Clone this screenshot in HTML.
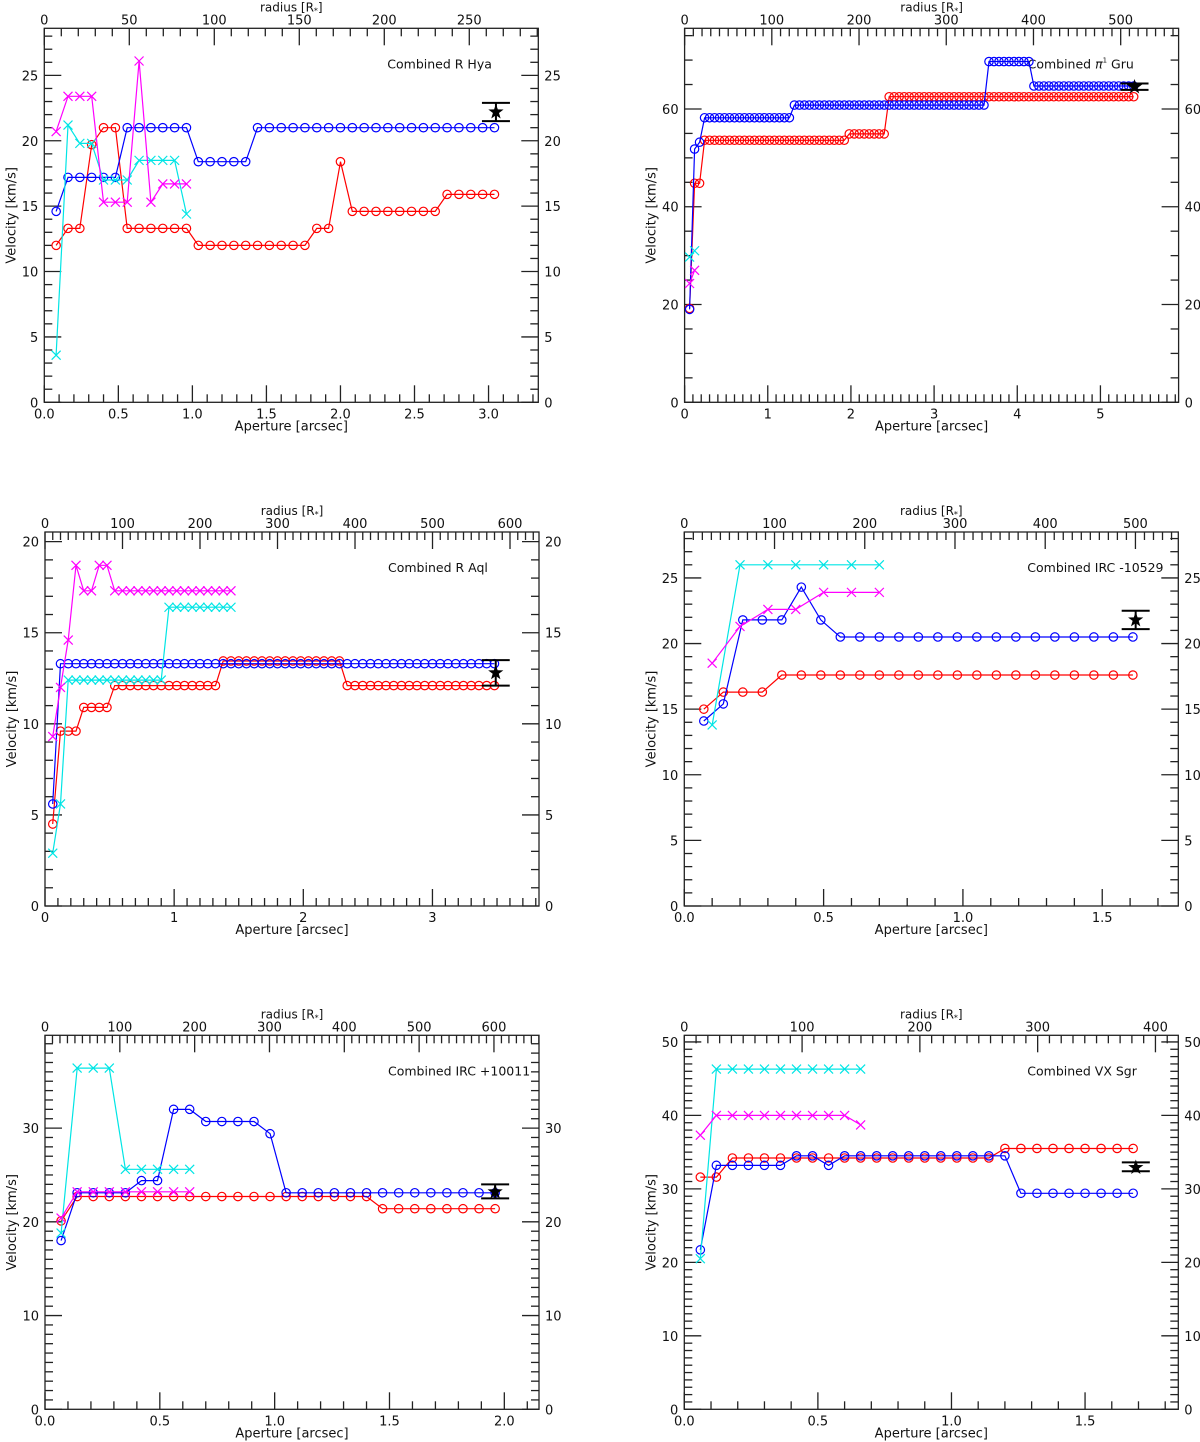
<!DOCTYPE html>
<html><head><meta charset="utf-8"><style>
html,body{margin:0;padding:0;background:#fff}
svg{display:block;font-family:"DejaVu Sans","Liberation Sans",sans-serif}
</style></head><body>
<svg id="fig" width="1200" height="1442" viewBox="0 0 1200 1442"></svg>
<script>
// ---------- Data (aperture index i starts at 1; aperture = i*step) ----------
const rhyaStep = 0.08;
const rhyaRed = [12.0,13.3,13.3,19.7,21.0,21.0,13.3,13.3,13.3,13.3,13.3,13.3,12.0,12.0,12.0,12.0,12.0,12.0,12.0,12.0,12.0,12.0,13.3,13.3,18.4,14.6,14.6,14.6,14.6,14.6,14.6,14.6,14.6,15.9,15.9,15.9,15.9,15.9];
const rhyaBlue = [14.6,17.2,17.2,17.2,17.2,17.2,21.0,21.0,21.0,21.0,21.0,21.0,18.4,18.4,18.4,18.4,18.4,21.0,21.0,21.0,21.0,21.0,21.0,21.0,21.0,21.0,21.0,21.0,21.0,21.0,21.0,21.0,21.0,21.0,21.0,21.0,21.0,21.0];
const rhyaCyan = [3.6,21.2,19.8,19.8,17.0,17.0,17.0,18.5,18.5,18.5,18.5,14.4];
const rhyaMag = [20.7,23.4,23.4,23.4,15.3,15.3,15.3,26.1,15.3,16.7,16.7,16.7];
const rhyaStar = [3.05,22.2,21.5,22.9];

const gruStep = 0.06;
const gruBlue = [19,51.8,53.2,
58.2,58.2,58.2,58.2,58.2,58.2,58.2,58.2,58.2,58.2,58.2,58.2,58.2,58.2,58.2,58.2,58.2,58.2,
60.8,60.8,60.8,60.8,60.8,60.8,60.8,60.8,60.8,60.8,60.8,60.8,60.8,60.8,60.8,60.8,60.8,60.8,60.8,60.8,
60.8,60.8,60.8,60.8,60.8,60.8,60.8,60.8,60.8,60.8,60.8,60.8,60.8,60.8,60.8,60.8,60.8,60.8,60.8,
69.7,69.7,69.7,69.7,69.7,69.7,69.7,69.7,69.7,
64.7,64.7,64.7,64.7,64.7,64.7,64.7,64.7,64.7,64.7,64.7,64.7,64.7,64.7,64.7,64.7,64.7,64.7,64.7,64.7,64.7];
const gruRed = [19.2,44.8,44.8,
53.6,53.6,53.6,53.6,53.6,53.6,53.6,53.6,53.6,53.6,53.6,53.6,53.6,53.6,53.6,53.6,53.6,53.6,53.6,53.6,53.6,53.6,53.6,53.6,53.6,53.6,53.6,53.6,53.6,
54.9,54.9,54.9,54.9,54.9,54.9,54.9,54.9,
62.5,62.5,62.5,62.5,62.5,62.5,62.5,62.5,62.5,62.5,62.5,62.5,62.5,62.5,62.5,62.5,62.5,62.5,62.5,62.5,62.5,62.5,62.5,62.5,62.5,
62.5,62.5,62.5,62.5,62.5,62.5,62.5,62.5,62.5,62.5,62.5,62.5,62.5,62.5,62.5,62.5,62.5,62.5,62.5,62.5,62.5,62.5,62.5,62.5,62.5];
const gruCyan = [29.7,31.0];
const gruMag = [24.3,27.0];
const gruStar = [5.41,64.5,63.9,65.2];

const raqlStep = 0.06;
const raqlBlue = [5.6,13.3,13.3,13.3,13.3,13.3,13.3,13.3,13.3,13.3,13.3,13.3,13.3,13.3,13.3,13.3,13.3,13.3,13.3,13.3,13.3,13.3,13.3,13.3,13.3,13.3,13.3,13.3,13.3,13.3,13.3,13.3,13.3,13.3,13.3,13.3,13.3,13.3,13.3,13.3,13.3,13.3,13.3,13.3,13.3,13.3,13.3,13.3,13.3,13.3,13.3,13.3,13.3,13.3,13.3,13.3,13.3,13.3];
const raqlRed = [4.5,9.6,9.6,9.6,10.9,10.9,10.9,10.9,
12.1,12.1,12.1,12.1,12.1,12.1,12.1,12.1,12.1,12.1,12.1,12.1,12.1,12.1,
13.45,13.45,13.45,13.45,13.45,13.45,13.45,13.45,13.45,13.45,13.45,13.45,13.45,13.45,13.45,13.45,
12.1,12.1,12.1,12.1,12.1,12.1,12.1,12.1,12.1,12.1,12.1,12.1,12.1,12.1,12.1,12.1,12.1,12.1,12.1,12.1];
const raqlCyan = [2.9,5.6,12.4,12.4,12.4,12.4,12.4,12.4,12.4,12.4,12.4,12.4,12.4,12.4,12.4,16.4,16.4,16.4,16.4,16.4,16.4,16.4,16.4,16.4];
const raqlMag = [9.3,12.0,14.6,18.7,17.3,17.3,18.7,18.7,17.3,17.3,17.3,17.3,17.3,17.3,17.3,17.3,17.3,17.3,17.3,17.3,17.3,17.3,17.3,17.3];
const raqlStar = [3.49,12.8,12.1,13.5];

const ircaStep = 0.07;
const ircaXStep = 0.1;
const ircaRed = [15.0,16.3,16.3,16.3,17.6,17.6,17.6,17.6,17.6,17.6,17.6,17.6,17.6,17.6,17.6,17.6,17.6,17.6,17.6,17.6,17.6,17.6,17.6];
const ircaBlue = [14.1,15.4,21.8,21.8,21.8,24.3,21.8,20.5,20.5,20.5,20.5,20.5,20.5,20.5,20.5,20.5,20.5,20.5,20.5,20.5,20.5,20.5,20.5];
const ircaCyan = [13.8,26.0,26.0,26.0,26.0,26.0,26.0];
const ircaMag = [18.5,21.3,22.6,22.6,23.9,23.9,23.9];
const ircaStar = [1.62,21.8,21.1,22.5];

const ircbStep = 0.07;
const ircbBlue = [18.0,23.1,23.1,23.1,23.1,24.4,24.4,32.0,32.0,30.7,30.7,30.7,30.7,29.4,23.1,23.1,23.1,23.1,23.1,23.1,23.1,23.1,23.1,23.1,23.1,23.1,23.1,23.1];
const ircbRed = [20.1,22.7,22.7,22.7,22.7,22.7,22.7,22.7,22.7,22.7,22.7,22.7,22.7,22.7,22.7,22.7,22.7,22.7,22.7,22.7,21.4,21.4,21.4,21.4,21.4,21.4,21.4,21.4];
const ircbCyan = [18.8,36.4,36.4,36.4,25.6,25.6,25.6,25.6,25.6];
const ircbMag = [20.4,23.2,23.2,23.2,23.2,23.2,23.2,23.2,23.2];
const ircbStar = [1.96,23.2,22.5,24.0];

const vxStep = 0.06;
const vxRed = [31.6,31.6,34.2,34.2,34.2,34.2,34.2,34.2,34.2,34.2,34.2,34.2,34.2,34.2,34.2,34.2,34.2,34.2,34.2,35.5,35.5,35.5,35.5,35.5,35.5,35.5,35.5,35.5];
const vxBlue = [21.7,33.2,33.2,33.2,33.2,33.2,34.5,34.5,33.2,34.5,34.5,34.5,34.5,34.5,34.5,34.5,34.5,34.5,34.5,34.5,29.4,29.4,29.4,29.4,29.4,29.4,29.4,29.4];
const vxCyan = [20.5,46.3,46.3,46.3,46.3,46.3,46.3,46.3,46.3,46.3,46.3];
const vxMag = [37.3,40.0,40.0,40.0,40.0,40.0,40.0,40.0,40.0,40.0,38.7];
const vxStar = [1.69,32.9,32.4,33.6];

// ---------- Rendering ----------
const NS = "http://www.w3.org/2000/svg";
const fig = document.getElementById("fig");
function mk(tag, attrs, parent){
  const e = document.createElementNS(NS, tag);
  for (const k in attrs) e.setAttribute(k, attrs[k]);
  (parent||fig).appendChild(e);
  return e;
}
const COL = {red:"#ff0000", blue:"#0000ff", cyan:"#00e5e5", mag:"#ff00ff"};

function drawPanel(p){
  const g = mk("g", {});
  
  
  const L=p.L, T=p.T, W=494, H=374, R=L+W, B=T+H;
  const sx = v => L + v/p.xmax*W;
  const sr = v => L + v/p.rmax*W;
  const sy = v => B - v/p.ymax*H;
  const ax = mk("g", {stroke:"#222","stroke-width":1.3}, g);
  
  
  mk("rect", {x:L,y:T,width:W,height:H,fill:"none"}, ax);
  const tl = mk("g", {"font-size":"13",fill:"#111"}, g);
  
  
  // bottom x ticks
  for (let k=0; k*p.xMinor <= p.xmax+1e-9; k++){
    const v = k*p.xMinor, x = sx(v);
    const maj = Math.abs(v/p.xMajor - Math.round(v/p.xMajor)) < 1e-6;
    mk("line", {x1:x,x2:x,y1:B,y2:B-(maj?17:8)}, ax);
    if (maj){
      const t = mk("text", {x:x,y:B+16,"text-anchor":"middle"}, tl);
      t.textContent = v.toFixed(p.xDec);
    }
  }
  // top radius ticks
  for (let k=0; k*p.rMinor <= p.rmax+1e-9; k++){
    const v = k*p.rMinor, x = sr(v);
    const maj = (v % p.rMajor) === 0;
    mk("line", {x1:x,x2:x,y1:T,y2:T+(maj?17:8)}, ax);
    if (maj){
      const t = mk("text", {x:x,y:T-4,"text-anchor":"middle"}, tl);
      t.textContent = String(v);
    }
  }
  // y ticks both sides
  for (let k=0; k*p.yMinor <= p.ymax+1e-9; k++){
    const v = k*p.yMinor, y = sy(v);
    const maj = (v % p.yMajor) === 0;
    const len = maj?17:8;
    mk("line", {x1:L,x2:L+len,y1:y,y2:y}, ax);
    mk("line", {x1:R,x2:R-len,y1:y,y2:y}, ax);
    if (maj){
      const t1 = mk("text", {x:L-6,y:y+5,"text-anchor":"end"}, tl);
      t1.textContent = String(v);
      const t2 = mk("text", {x:R+6,y:y+5,"text-anchor":"start"}, tl);
      t2.textContent = String(v);
    }
  }
  // axis titles
  const xt = mk("text", {x:L+W/2,y:B+28,"text-anchor":"middle","font-size":"13",fill:"#111"}, g);
  
  
  xt.textContent = "Aperture [arcsec]";
  const rt = mk("text", {x:L+W/2,y:T-17,"text-anchor":"middle","font-size":"12",fill:"#111"}, g);
  
  
  rt.textContent = "radius [R";
  const sub = mk("tspan", {"font-size":"8",dy:"2"}, rt); sub.textContent = "*";
  const cl = mk("tspan", {dy:"-2"}, rt); cl.textContent = "]";
  const yt = mk("text", {x:0,y:0,"text-anchor":"middle","font-size":"13",fill:"#111",
    transform:`translate(${L-29},${T+H/2}) rotate(-90)`}, g);
  
  
  yt.textContent = "Velocity [km/s]";
  // panel label
  const lab = mk("text", {x:L+343,y:T+40,"font-size":"12.5",fill:"#111"}, g);
  
  
  if (p.sup){
    lab.appendChild(document.createTextNode("Combined "));
    const pi = mk("tspan", {"font-style":"italic"}, lab); pi.textContent = "π";
    const s1 = mk("tspan", {"font-size":"7",dy:"-6"}, lab); s1.textContent = "1";
    const s2 = mk("tspan", {dy:"6"}, lab); s2.textContent = " Gru";
  } else lab.textContent = p.title;
  // series
  p.series.forEach(s=>{
    const sg = mk("g", {stroke:COL[s.color],fill:"none","stroke-width":1.2}, g);
    
    
    const pts = s.data.map((v,i)=>[sx((i+1)*s.step), sy(v)]);
    mk("polyline", {points: pts.map(q=>q[0].toFixed(1)+","+q[1].toFixed(1)).join(" ")}, sg);
    pts.forEach(q=>{
      let m;
      if (s.marker==="o"){
        m = mk("circle", {cx:q[0],cy:q[1],r:4.2}, sg);
      } else {
        const d=4.5;
        m = mk("path", {d:`M${q[0]-d},${q[1]-d}L${q[0]+d},${q[1]+d}M${q[0]-d},${q[1]+d}L${q[0]+d},${q[1]-d}`}, sg);
      }
      
      
    });
  });
  // star with error bar
  const st = p.star;
  const cx = sx(st[0]), cy = sy(st[1]), lo = sy(st[2]), hi = sy(st[3]);
  const eg = mk("g", {stroke:"#000","stroke-width":2}, g);
  
  
  mk("line", {x1:cx,x2:cx,y1:lo,y2:hi}, eg);
  mk("line", {x1:cx-14,x2:cx+14,y1:lo,y2:lo}, eg);
  mk("line", {x1:cx-14,x2:cx+14,y1:hi,y2:hi}, eg);
  let d="";
  for (let k=0;k<10;k++){
    const a = -Math.PI/2 + k*Math.PI/5, r = k%2?3.2:8;
    d += (k?"L":"M") + (cx+r*Math.cos(a)).toFixed(2)+","+(cy+r*Math.sin(a)).toFixed(2);
  }
  const star = mk("path", {d:d+"Z",fill:"#000"}, g);
  
  
}

function ser(name,color,marker,step,data){ return {name,color,marker,step,data}; }

drawPanel({name:"panel-r-hya",L:44.3,T:28.3,xmax:3.336,ymax:28.6,rmax:290.6,xMajor:0.5,xMinor:0.1,xDec:1,yMajor:5,yMinor:1,rMajor:50,rMinor:10,title:"Combined R Hya",star:rhyaStar,
 series:[ser("red-series","red","o",rhyaStep,rhyaRed),ser("blue-series","blue","o",rhyaStep,rhyaBlue),ser("cyan-series","cyan","x",rhyaStep,rhyaCyan),ser("magenta-series","mag","x",rhyaStep,rhyaMag)]});
drawPanel({name:"panel-pi1-gru",L:684.6,T:28.3,xmax:5.94,ymax:76.5,rmax:566.4,xMajor:1,xMinor:0.1,xDec:0,yMajor:20,yMinor:5,rMajor:100,rMinor:10,sup:true,star:gruStar,
 series:[ser("red-series","red","o",gruStep,gruRed),ser("blue-series","blue","o",gruStep,gruBlue),ser("cyan-series","cyan","x",gruStep,gruCyan),ser("magenta-series","mag","x",gruStep,gruMag)]});
drawPanel({name:"panel-r-aql",L:45,T:532,xmax:3.825,ymax:20.53,rmax:637.4,xMajor:1,xMinor:0.1,xDec:0,yMajor:5,yMinor:1,rMajor:100,rMinor:10,title:"Combined  R Aql",star:raqlStar,
 series:[ser("red-series","red","o",raqlStep,raqlRed),ser("blue-series","blue","o",raqlStep,raqlBlue),ser("cyan-series","cyan","x",raqlStep,raqlCyan),ser("magenta-series","mag","x",raqlStep,raqlMag)]});
drawPanel({name:"panel-irc-10529",L:684.3,T:532,xmax:1.773,ymax:28.5,rmax:547.5,xMajor:0.5,xMinor:0.1,xDec:1,yMajor:5,yMinor:1,rMajor:100,rMinor:10,title:"Combined IRC -10529",star:ircaStar,
 series:[ser("red-series","red","o",ircaStep,ircaRed),ser("blue-series","blue","o",ircaStep,ircaBlue),ser("cyan-series","cyan","x",ircaXStep,ircaCyan),ser("magenta-series","mag","x",ircaXStep,ircaMag)]});
drawPanel({name:"panel-irc-10011",L:45,T:1035.3,xmax:2.151,ymax:39.9,rmax:660.2,xMajor:0.5,xMinor:0.1,xDec:1,yMajor:10,yMinor:1,rMajor:100,rMinor:10,title:"Combined IRC +10011",star:ircbStar,
 series:[ser("red-series","red","o",ircbStep,ircbRed),ser("blue-series","blue","o",ircbStep,ircbBlue),ser("cyan-series","cyan","x",ircbStep,ircbCyan),ser("magenta-series","mag","x",ircbStep,ircbMag)]});
drawPanel({name:"panel-vx-sgr",L:684.3,T:1035.3,xmax:1.849,ymax:50.9,rmax:419.4,xMajor:0.5,xMinor:0.1,xDec:1,yMajor:10,yMinor:1,rMajor:100,rMinor:10,title:"Combined VX Sgr",star:vxStar,
 series:[ser("red-series","red","o",vxStep,vxRed),ser("blue-series","blue","o",vxStep,vxBlue),ser("cyan-series","cyan","x",vxStep,vxCyan),ser("magenta-series","mag","x",vxStep,vxMag)]});
</script>
</body></html>
